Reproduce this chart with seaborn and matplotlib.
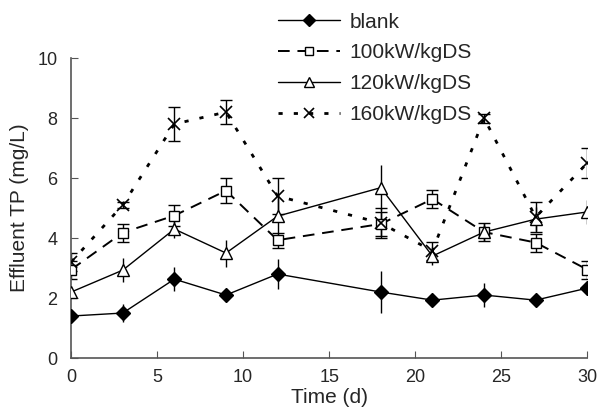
import matplotlib
matplotlib.use("Agg")
import matplotlib.pyplot as plt
import seaborn as sns
import pandas as pd

days = [0, 3, 6, 9, 12, 18, 21, 24, 27, 30]

blank = [1.4, 1.5, 2.63, 2.1, 2.8, 2.2, 1.93, 2.1, 1.93, 2.33]
blank_err = [0.0, 0.3, 0.4, 0.15, 0.5, 0.7, 0.2, 0.4, 0.1, 0.1]

p100 = [2.95, 4.18, 4.75, 5.58, 3.93, 4.47, 5.3, 4.2, 3.85, 2.95]
p100_err = [0.3, 0.3, 0.35, 0.42, 0.25, 0.4, 0.3, 0.3, 0.3, 0.3]

p120 = [2.2, 2.93, 4.3, 3.5, 4.73, 5.68, 3.4, 4.2, 4.63, 4.87]
p120_err = [0.1, 0.4, 0.3, 0.45, 0.6, 0.75, 0.3, 0.3, 0.4, 0.4]

p160 = [3.2, 5.1, 7.8, 8.2, 5.4, 4.5, 3.57, 8.0, 4.7, 6.5]
p160_err = [0.3, 0.1, 0.58, 0.4, 0.6, 0.5, 0.3, 0.15, 0.5, 0.5]

labels = ["blank", "100kW/kgDS", "120kW/kgDS", "160kW/kgDS"]

sns.set_style("ticks")
plt.rcParams['font.family'] = ['Liberation Sans', 'DejaVu Sans']

fig = plt.figure(figsize=(5.98, 4.12), dpi=100)
ax = fig.add_axes([0.119, 0.131, 0.863, 0.728])

series = [
    (blank, blank_err, dict(marker="D", mfc="black", ms=7, ls="-", lw=1.0), 0),
    (p100, p100_err, dict(marker="s", mfc="white", ms=7, ls=(0, (6, 4)), lw=1.4), 4),
    (p120, p120_err, dict(marker="^", mfc="white", ms=8, ls="-", lw=1.0), 0),
    (p160, p160_err, dict(marker="x", ms=8, mew=1.2, ls=(0, (1.5, 4)), lw=2.0), 4),
]

handles = []
for (vals, err, st, cap), lab in zip(series, labels):
    df = pd.DataFrame({"day": days, "tp": vals})
    sns.lineplot(data=df, x="day", y="tp", ax=ax, color="black",
                 linestyle=st["ls"], linewidth=st["lw"], legend=False)
    ax.errorbar(days, vals, yerr=err, fmt="none", ecolor="black",
                elinewidth=1.0, capsize=cap, capthick=1.0)
    ax.plot(days, vals, ls="none", marker=st["marker"], color="black",
            mfc=st.get("mfc", "black"), ms=st["ms"], mew=st.get("mew", 1.0), zorder=5)
    h, = ax.plot([], [], color="black", ls=st["ls"], lw=st["lw"], marker=st["marker"],
                 mfc=st.get("mfc", "black"), ms=st["ms"] - 1, mew=st.get("mew", 1.0))
    handles.append(h)

ax.set_xlim(0, 30)
ax.set_ylim(0, 10)
ax.set_xticks([0, 5, 10, 15, 20, 25, 30])
ax.set_yticks([0, 2, 4, 6, 8, 10])
ax.set_xlabel("Time (d)", fontsize=15, labelpad=1)
ax.set_ylabel("Effluent TP (mg/L)", fontsize=15, labelpad=6)
ax.tick_params(direction="in", length=5, labelsize=13, color="#555555")
ax.tick_params(axis="x", pad=8)
ax.tick_params(axis="y", pad=10)
for s in ["left", "bottom"]:
    ax.spines[s].set_color("#555555")
    ax.spines[s].set_linewidth(1.2)
    ax.spines[s].set_clip_on(False)
for s in ["top", "right"]:
    ax.spines[s].set_visible(False)

leg = fig.legend(handles, labels, loc="upper left", bbox_to_anchor=(0.44, 1.005),
                 frameon=False, fontsize=15, handlelength=3.0, labelspacing=0.57,
                 handletextpad=0.45, borderaxespad=0.3)

fig.savefig("out.png", dpi=100)
